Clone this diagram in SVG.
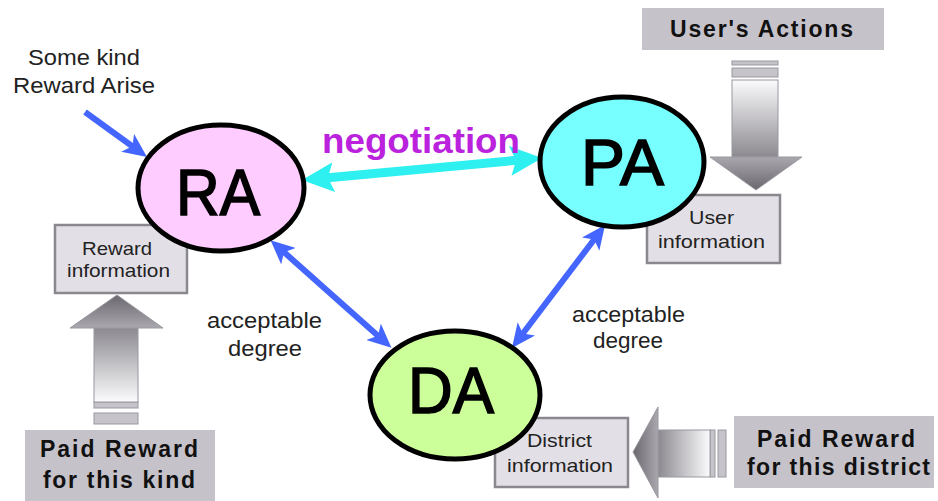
<svg xmlns="http://www.w3.org/2000/svg" width="938" height="501" viewBox="0 0 938 501">
<style>
.lbl{font-family:"Liberation Sans",Arial,sans-serif;font-size:22px;fill:#222;}
.info{font-family:"Liberation Sans",Arial,sans-serif;font-size:19px;fill:#222;}
.big{font-family:"Liberation Sans",Arial,sans-serif;font-size:65px;fill:#000;stroke:#000;stroke-width:1.6px;}
.bold{font-family:"Liberation Sans",Arial,sans-serif;font-size:23px;font-weight:bold;fill:#111;}
.node{stroke:#000;stroke-width:5;}
.infobox{fill:#e2e0e6;stroke:#8a888e;stroke-width:2.5;}
.tag{fill:#c6c2ca;}
.blue{stroke:#4466ff;stroke-width:6;fill:none;}
.cyan{stroke:#2ef0f0;stroke-width:9;fill:none;}
.bar{fill:#c6c4ca;stroke:#9a98a0;stroke-width:1;}
.gout{stroke:#9a98a0;stroke-width:1;}
</style>
<defs>
<marker id="bh" viewBox="0 0 24 22" refX="10" refY="11" markerWidth="24" markerHeight="22" orient="auto-start-reverse" markerUnits="userSpaceOnUse"><path d="M0,0 L24,11 L0,22 L6,11 z" fill="#4466ff"/></marker>
<marker id="ch" viewBox="0 0 32 30" refX="14" refY="15" markerWidth="32" markerHeight="30" orient="auto-start-reverse" markerUnits="userSpaceOnUse"><path d="M0,0 L32,15 L0,30 L6,15 z" fill="#2ef0f0"/></marker>
<linearGradient id="shD" x1="0" y1="0" x2="0" y2="1"><stop offset="0" stop-color="#fbfafc"/><stop offset="1" stop-color="#8c8a90"/></linearGradient>
<linearGradient id="hdD" x1="0" y1="0" x2="0" y2="1"><stop offset="0" stop-color="#aaa8ae"/><stop offset="1" stop-color="#6a686e"/></linearGradient>
<linearGradient id="shU" x1="0" y1="1" x2="0" y2="0"><stop offset="0" stop-color="#fbfafc"/><stop offset="1" stop-color="#8c8a90"/></linearGradient>
<linearGradient id="hdU" x1="0" y1="1" x2="0" y2="0"><stop offset="0" stop-color="#aaa8ae"/><stop offset="1" stop-color="#6a686e"/></linearGradient>
<linearGradient id="shL" x1="1" y1="0" x2="0" y2="0"><stop offset="0" stop-color="#fbfafc"/><stop offset="1" stop-color="#8c8a90"/></linearGradient>
<linearGradient id="hdL" x1="1" y1="0" x2="0" y2="0"><stop offset="0" stop-color="#aaa8ae"/><stop offset="1" stop-color="#6a686e"/></linearGradient>
</defs>

<g id="connectors">
<line class="blue" x1="85" y1="112" x2="135.7" y2="148.7" marker-end="url(#bh)"/>
<line class="blue" x1="281" y1="249.5" x2="381" y2="338.5" marker-start="url(#bh)" marker-end="url(#bh)"/>
<line class="blue" x1="596.6" y1="236.2" x2="520.4" y2="336.8" marker-start="url(#bh)" marker-end="url(#bh)"/>
<line class="cyan" x1="319.9" y1="178.4" x2="524.1" y2="159.6" marker-start="url(#ch)" marker-end="url(#ch)"/>
</g>

<g id="label-negotiation">
<text x="322" y="153" font-family="Liberation Sans, Arial, sans-serif" font-size="35" font-weight="bold" fill="#bb22dd" textLength="198" lengthAdjust="spacingAndGlyphs">negotiation</text>
</g>

<g id="label-arise">
<text class="lbl" x="28" y="65" textLength="112" lengthAdjust="spacingAndGlyphs">Some kind</text>
<text class="lbl" x="13" y="93" textLength="142" lengthAdjust="spacingAndGlyphs">Reward Arise</text>
</g>

<g id="label-acc-left">
<text class="lbl" x="207" y="328" textLength="115" lengthAdjust="spacingAndGlyphs">acceptable</text>
<text class="lbl" x="228" y="356" textLength="74" lengthAdjust="spacingAndGlyphs">degree</text>
</g>
<g id="label-acc-right">
<text class="lbl" x="572" y="322" textLength="113" lengthAdjust="spacingAndGlyphs">acceptable</text>
<text class="lbl" x="593" y="348" textLength="70" lengthAdjust="spacingAndGlyphs">degree</text>
</g>

<g id="users-actions">
<rect class="tag" x="642" y="8" width="242" height="42"/>
<text class="bold" x="670" y="37" textLength="183" lengthAdjust="spacing">User's Actions</text>
</g>
<g id="arrow-down">
<rect class="bar" x="732" y="61" width="46" height="4"/>
<rect class="bar" x="732" y="68" width="46" height="9"/>
<rect class="gout" x="732" y="80" width="46" height="77" fill="url(#shD)"/>
<polygon class="gout" points="710,157 802,157 756,190" fill="url(#hdD)"/>
</g>

<g id="paid-kind">
<rect class="tag" x="25" y="430" width="190" height="71"/>
<text class="bold" x="40" y="457" textLength="158" lengthAdjust="spacing">Paid Reward</text>
<text class="bold" x="43" y="488" textLength="152" lengthAdjust="spacing">for this kind</text>
</g>
<g id="arrow-up">
<rect class="bar" x="94" y="413" width="44" height="11"/>
<rect class="bar" x="94" y="402" width="44" height="6"/>
<rect class="gout" x="94" y="328" width="44" height="74" fill="url(#shU)"/>
<polygon class="gout" points="70,328 163,328 117,295" fill="url(#hdU)"/>
</g>

<g id="paid-district">
<rect class="tag" x="734" y="416" width="200" height="72"/>
<text class="bold" x="757" y="447" textLength="158" lengthAdjust="spacing">Paid Reward</text>
<text class="bold" x="747" y="475" textLength="183" lengthAdjust="spacing">for this district</text>
</g>
<g id="arrow-left">
<rect class="bar" x="718" y="430" width="8" height="47"/>
<rect class="bar" x="710" y="430" width="5" height="47"/>
<rect class="gout" x="658" y="430" width="52" height="47" fill="url(#shL)"/>
<polygon class="gout" points="658,407 658,498 633,452" fill="url(#hdL)"/>
</g>

<g id="reward-info">
<rect class="infobox" x="55" y="225" width="132" height="68"/>
<text class="info" x="82" y="255" textLength="70" lengthAdjust="spacingAndGlyphs">Reward</text>
<text class="info" x="67" y="277" textLength="103" lengthAdjust="spacingAndGlyphs">information</text>
</g>
<g id="user-info">
<rect class="infobox" x="647" y="195" width="133" height="68"/>
<text class="info" x="689" y="224" textLength="45" lengthAdjust="spacingAndGlyphs">User</text>
<text class="info" x="658" y="248" textLength="107" lengthAdjust="spacingAndGlyphs">information</text>
</g>
<g id="district-info">
<rect class="infobox" x="495" y="418" width="133" height="69"/>
<text class="info" x="527" y="447" textLength="65" lengthAdjust="spacingAndGlyphs">District</text>
<text class="info" x="507" y="472" textLength="106" lengthAdjust="spacingAndGlyphs">information</text>
</g>

<g id="RA">
<ellipse class="node" cx="221" cy="188" rx="83" ry="63" fill="#ffccff"/>
<text class="big" x="176" y="215" textLength="84" lengthAdjust="spacingAndGlyphs">RA</text>
</g>
<g id="PA">
<ellipse class="node" cx="622" cy="162" rx="82" ry="65" fill="#77ffff"/>
<text class="big" x="581" y="185" textLength="83" lengthAdjust="spacingAndGlyphs">PA</text>
</g>
<g id="DA">
<ellipse class="node" cx="455" cy="395" rx="85" ry="64" fill="#ccff99"/>
<text class="big" x="408" y="413" textLength="86" lengthAdjust="spacingAndGlyphs">DA</text>
</g>
</svg>
